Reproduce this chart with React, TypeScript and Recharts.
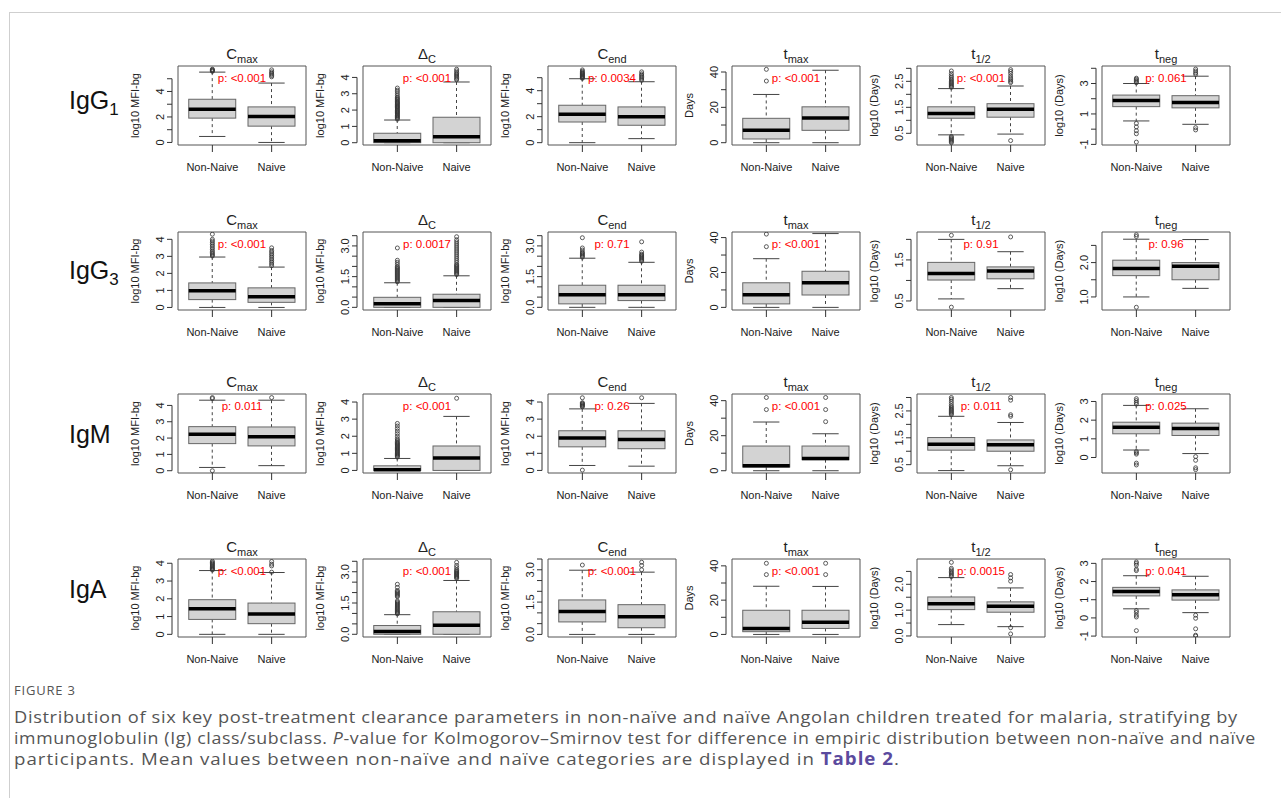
import React from "react";
import { ComposedChart, Bar, Scatter, XAxis, YAxis, ReferenceArea } from "recharts";

const FONT = '"Liberation Sans", Arial, Helvetica, sans-serif';
const CAPTION_FONT = '"Open Sans", "Noto Sans", sans-serif';

const GROUPS = ["Non-Naive", "Naive"];
const GROUP_POS = [1, 2];
const TITLE_BASE = ["C", "\u0394", "C", "t", "t", "t"];
const TITLE_SUB = ["max", "C", "end", "max", "1/2", "neg"];
const Y_TITLES = ["log10 MFI-bg", "log10 MFI-bg", "log10 MFI-bg", "Days", "log10 (Days)", "log10 (Days)"];

// [lower whisker, q1, median, q3, upper whisker] per parameter
const IGG1_NON_NAIVE = [
  [0.47, 1.91, 2.61, 3.39, 5.52],
  [0, 0, 0.12, 0.58, 1.39],
  [0, 1.59, 2.18, 2.88, 4.92],
  [0, 2.1, 7.0, 13.8, 27.3],
  [0.44, 1.08, 1.26, 1.52, 2.22],
  [0.54, 1.48, 1.88, 2.24, 3.0],
];
const IGG1_NAIVE = [
  [0, 1.28, 2.03, 2.79, 4.66],
  [0, 0, 0.37, 1.56, 3.72],
  [0.31, 1.34, 2.0, 2.75, 4.69],
  [0, 7.0, 14.0, 20.3, 41],
  [0.47, 1.12, 1.43, 1.64, 2.32],
  [0.32, 1.4, 1.76, 2.2, 3.48],
];
const IGG1_NON_NAIVE_OUT = [
  [5.58, 5.62, 5.66, 5.7, 5.75],
  [1.44, 1.5, 1.55, 1.6, 1.66, 1.7, 1.76, 1.81, 1.86, 1.9, 1.96, 2.0, 2.06, 2.12, 2.17, 2.22, 2.27, 2.33, 2.38, 2.43, 2.48, 2.53, 2.6, 2.66, 2.72, 2.78, 2.88, 3.0, 3.12, 3.22, 3.35],
  [4.95, 5.0, 5.05, 5.1, 5.15, 5.2, 5.26, 5.31, 5.36, 5.42, 5.5, 5.6],
  [34.9, 41.5],
  [2.27, 2.3, 2.34, 2.38, 2.42, 2.46, 2.5, 2.55, 2.6, 2.66, 2.72, 2.8, 2.9, 0.38, 0.34, 0.3, 0.26, 0.22, 0.18, 0.14],
  [3.05, 3.12, 3.2, 3.28, 3.35, 0.38, 0.15, -0.1, -0.3, -0.85],
];
const IGG1_NAIVE_OUT = [
  [5.15, 5.25, 5.35, 5.45, 5.55, 5.7],
  [3.85, 3.92, 4.0, 4.08, 4.15, 4.22, 4.3, 4.4, 4.5],
  [4.8, 4.9, 5.0, 5.1, 5.2, 5.3, 5.45],
  [],
  [2.45, 2.5, 2.56, 2.62, 2.7, 2.8, 2.88, 2.95, 0.22],
  [3.6, 3.7, 3.82, 3.95, 0.1, -0.05],
];

const IGG3_NON_NAIVE = [
  [0, 0.46, 0.98, 1.44, 2.96],
  [0, 0, 0.18, 0.49, 1.2],
  [0, 0.17, 0.62, 1.08, 2.4],
  [0, 2.0, 7.3, 14.1, 27.9],
  [0.55, 1.01, 1.17, 1.44, 2.0],
  [1.0, 1.62, 1.83, 2.07, 2.68],
];
const IGG3_NAIVE = [
  [0, 0.3, 0.63, 1.15, 2.37],
  [0, 0, 0.34, 0.64, 1.54],
  [0, 0.33, 0.62, 1.08, 2.2],
  [0, 7.1, 14.1, 20.7, 42.3],
  [0.8, 1.04, 1.23, 1.33, 1.7],
  [1.25, 1.5, 1.89, 2.0, 2.67],
];
const IGG3_NON_NAIVE_OUT = [
  [3.02, 3.08, 3.15, 3.22, 3.3, 3.4, 3.5, 3.6, 3.7, 3.8, 3.9, 4.0, 4.3],
  [1.25, 1.3, 1.35, 1.4, 1.45, 1.5, 1.55, 1.6, 1.65, 1.7, 1.75, 1.8, 1.85, 1.9, 1.95, 2.0, 2.1, 2.2, 2.3, 2.9],
  [2.45, 2.5, 2.55, 2.6, 2.65, 2.7, 2.8, 2.9, 3.4],
  [34.8, 42],
  [2.1, 0.35],
  [2.76, 2.81, 0.7],
];
const IGG3_NAIVE_OUT = [
  [2.45, 2.55, 2.65, 2.75, 2.85, 2.95, 3.05, 3.15, 3.25, 3.35, 3.5],
  [1.6, 1.65, 1.7, 1.75, 1.8, 1.85, 1.9, 1.95, 2.0, 2.05, 2.1, 2.2, 2.3, 2.4, 2.5, 2.6, 2.7, 2.8, 2.9, 3.0, 3.1, 3.2, 3.3, 3.45],
  [2.25, 2.3, 2.35, 2.4, 2.45, 2.5, 2.55, 2.6, 2.7, 3.2],
  [],
  [2.06],
  [],
];

const IGM_NON_NAIVE = [
  [0.2, 1.66, 2.23, 2.7, 4.32],
  [0, 0, 0.04, 0.27, 0.7],
  [0.29, 1.38, 1.89, 2.32, 3.6],
  [0, 2.1, 2.9, 14.1, 27.8],
  [0.28, 1.04, 1.26, 1.51, 2.3],
  [0.4, 1.27, 1.62, 1.89, 2.79],
];
const IGM_NAIVE = [
  [0.31, 1.52, 2.08, 2.68, 4.32],
  [0, 0, 0.72, 1.43, 3.16],
  [0.25, 1.27, 1.81, 2.32, 3.92],
  [0, 6.3, 7.0, 14.1, 21.1],
  [0.46, 1.0, 1.24, 1.42, 2.07],
  [0.21, 1.18, 1.55, 1.84, 2.61],
];
const IGM_NON_NAIVE_OUT = [
  [4.42, 4.48, 0.0],
  [0.78, 0.83, 0.88, 0.93, 0.98, 1.03, 1.08, 1.13, 1.18, 1.23, 1.28, 1.33, 1.38, 1.43, 1.48, 1.53, 1.58, 1.63, 1.7, 1.78, 1.86, 2.0, 2.15, 2.3, 2.45, 2.6, 2.75],
  [3.72, 3.76, 3.8, 3.84, 3.88, 3.92, 3.96, 4.25, 0.02],
  [34.9, 41.8],
  [2.36, 2.4, 2.44, 2.48, 2.52, 2.56, 2.6, 2.65, 2.7, 2.78, 2.86, 2.94, 3.0],
  [2.86, 2.95, 3.05, 3.15, 0.32, 0.25, 0.18, -0.3, -0.4],
];
const IGM_NAIVE_OUT = [
  [4.48],
  [4.22],
  [4.25],
  [28, 34.9, 41.8],
  [2.3, 2.36, 2.9, 3.0, 0.31],
  [0.05, -0.15, -0.55, -0.65],
];

const IGA_NON_NAIVE = [
  [0, 0.84, 1.44, 1.95, 3.59],
  [0, 0, 0.13, 0.42, 0.94],
  [0, 0.58, 1.06, 1.6, 2.98],
  [0, 1.6, 3.5, 14.1, 28.1],
  [0.44, 1.02, 1.25, 1.51, 2.26],
  [0.5, 1.21, 1.45, 1.68, 2.32],
];
const IGA_NAIVE = [
  [0, 0.6, 1.14, 1.76, 3.48],
  [0, 0, 0.43, 1.08, 2.58],
  [0, 0.31, 0.82, 1.38, 2.89],
  [0, 3.5, 7.1, 14.1, 28],
  [0.36, 0.92, 1.15, 1.32, 1.86],
  [0.29, 0.98, 1.28, 1.54, 2.29],
];
const IGA_NON_NAIVE_OUT = [
  [3.62, 3.66, 3.7, 3.75, 3.8, 3.85, 3.9, 3.95, 4.0, 4.05, 4.12],
  [0.98, 1.02, 1.06, 1.1, 1.15, 1.2, 1.25, 1.3, 1.35, 1.4, 1.45, 1.5, 1.55, 1.6, 1.8, 1.85, 1.9, 1.95, 2.0, 2.05, 2.1, 2.25, 2.4],
  [3.22],
  [34.9, 41.5],
  [2.3, 2.35, 2.4, 2.45, 2.5, 2.56, 2.62, 2.85],
  [2.6, 2.68, 2.9, 3.0, 3.08, 0.4, 0.3, 0.15, 0.05, -0.7],
];
const IGA_NAIVE_OUT = [
  [3.5, 3.85, 3.95, 4.1],
  [2.68, 2.72, 2.76, 2.8, 2.84, 2.88, 2.92, 2.96, 3.0, 3.05, 3.1, 3.2, 3.3, 3.45],
  [3.0, 3.2, 3.35],
  [34.9, 41.5],
  [2.12, 2.25, 2.38, 0.32, 0.08],
  [0.15, -0.02, -0.6, -0.95, -1.0],
];

const IGG1_P = ["p: <0.001", "p: <0.001", "p: 0.0034", "p: <0.001", "p: <0.001", "p: 0.061"];
const IGG3_P = ["p: <0.001", "p: 0.0017", "p: 0.71", "p: <0.001", "p: 0.91", "p: 0.96"];
const IGM_P = ["p: 0.011", "p: <0.001", "p: 0.26", "p: <0.001", "p: 0.011", "p: 0.025"];
const IGA_P = ["p: <0.001", "p: <0.001", "p: <0.001", "p: <0.001", "p: 0.0015", "p: 0.041"];

// y axes
const IGG1_DOMAIN = [[-0.2, 6.0], [-0.14, 4.7], [-0.18, 5.9], [-1.3, 43.4], [0.05, 3.09], [-1.04, 4.15]];
const IGG1_TICKS = [[0, 1, 2, 3, 4, 5], [0, 1, 2, 3, 4], [0, 1, 2, 3, 4, 5], [0, 10, 20, 30, 40], [0.5, 1, 1.5, 2, 2.5, 3], [-1, 0, 1, 2, 3, 4]];
const IGG1_LABELS = [[0, 2, 4], [0, 1, 2, 3, 4], [0, 2, 4], [0, 20, 40], [0.5, 1.5, 2.5], [-1, 1, 3]];
const IGG1_DEC = [0, 0, 0, 0, 1, 0];

const IGG3_DOMAIN = [[-0.15, 4.43], [-0.13, 3.68], [-0.13, 3.68], [-1.5, 43.2], [0.28, 2.18], [0.62, 2.89]];
const IGG3_TICKS = [[0, 1, 2, 3, 4], [0, 0.5, 1, 1.5, 2, 2.5, 3, 3.5], [0, 0.5, 1, 1.5, 2, 2.5, 3, 3.5], [0, 10, 20, 30, 40], [0.5, 1, 1.5, 2], [1, 1.5, 2, 2.5]];
const IGG3_LABELS = [[0, 1, 2, 3, 4], [0, 1.5, 3], [0, 1.5, 3], [0, 20, 40], [0.5, 1.5], [1, 2]];
const IGG3_DEC = [0, 1, 1, 0, 1, 1];

const IGM_DOMAIN = [[-0.14, 4.7], [-0.15, 4.47], [-0.15, 4.47], [-1.3, 43.8], [0.19, 3.13], [-0.83, 3.4]];
const IGM_TICKS = [[0, 1, 2, 3, 4], [0, 1, 2, 3, 4], [0, 1, 2, 3, 4], [0, 10, 20, 30, 40], [0.5, 1, 1.5, 2, 2.5, 3], [0, 1, 2, 3]];
const IGM_LABELS = [[0, 1, 2, 3, 4], [0, 1, 2, 3, 4], [0, 1, 2, 3, 4], [0, 20, 40], [0.5, 1.5, 2.5], [0, 1, 2, 3]];
const IGM_DEC = [0, 0, 0, 0, 1, 0];

const IGA_DOMAIN = [[-0.15, 4.24], [-0.13, 3.61], [-0.12, 3.5], [-1.5, 44], [-0.04, 2.98], [-1.05, 3.24]];
const IGA_TICKS = [[0, 1, 2, 3, 4], [0, 0.5, 1, 1.5, 2, 2.5, 3, 3.5], [0, 0.5, 1, 1.5, 2, 2.5, 3, 3.5], [0, 10, 20, 30, 40], [0, 0.5, 1, 1.5, 2, 2.5], [-1, 0, 1, 2, 3]];
const IGA_LABELS = [[0, 1, 2, 3, 4], [0, 1.5, 3], [0, 1.5, 3], [0, 20, 40], [0, 1, 2], [-1, 0, 1, 2, 3]];
const IGA_DEC = [0, 1, 1, 0, 1, 0];

const ROWS = [
  { name: "IgG", sub: "1", nn: IGG1_NON_NAIVE, n: IGG1_NAIVE, nnOut: IGG1_NON_NAIVE_OUT, nOut: IGG1_NAIVE_OUT, p: IGG1_P, domain: IGG1_DOMAIN, ticks: IGG1_TICKS, labels: IGG1_LABELS, dec: IGG1_DEC },
  { name: "IgG", sub: "3", nn: IGG3_NON_NAIVE, n: IGG3_NAIVE, nnOut: IGG3_NON_NAIVE_OUT, nOut: IGG3_NAIVE_OUT, p: IGG3_P, domain: IGG3_DOMAIN, ticks: IGG3_TICKS, labels: IGG3_LABELS, dec: IGG3_DEC },
  { name: "IgM", sub: "", nn: IGM_NON_NAIVE, n: IGM_NAIVE, nnOut: IGM_NON_NAIVE_OUT, nOut: IGM_NAIVE_OUT, p: IGM_P, domain: IGM_DOMAIN, ticks: IGM_TICKS, labels: IGM_LABELS, dec: IGM_DEC },
  { name: "IgA", sub: "", nn: IGA_NON_NAIVE, n: IGA_NAIVE, nnOut: IGA_NON_NAIVE_OUT, nOut: IGA_NAIVE_OUT, p: IGA_P, domain: IGA_DOMAIN, ticks: IGA_TICKS, labels: IGA_LABELS, dec: IGA_DEC },
];

// layout
const BOX_LEFT = [178, 363, 548, 732, 917, 1102];
const BOX_TOP = [66, 232, 394, 559];
const PLOT_H = [79, 78, 79, 78];
const LABEL_BASE = [109, 279, 443, 598];
const PLOT_W = 128;
const Y_W = 60;
const TOP = 8;
const RIGHT = 6;
const X_H = 30;

const BoxShape = (props: any) => {
  const { x, y, width, height, payload } = props;
  if (payload == null) return null;
  const top = Math.min(y, y + height);
  const bottom = Math.max(y, y + height);
  const { lo, q1, med, q3, hi } = payload;
  const py = (v: number) => bottom - ((v - lo) / (hi - lo)) * (bottom - top);
  const cx = x + width / 2;
  const half = width * 0.28;
  return (
    <g>
      <line x1={cx} x2={cx} y1={py(hi)} y2={py(q3)} stroke="#444" strokeDasharray="3 3" />
      <line x1={cx} x2={cx} y1={py(q1)} y2={py(lo)} stroke="#444" strokeDasharray="3 3" />
      <line x1={cx - half} x2={cx + half} y1={py(hi)} y2={py(hi)} stroke="#444" />
      <line x1={cx - half} x2={cx + half} y1={py(lo)} y2={py(lo)} stroke="#444" />
      <rect x={x} y={py(q3)} width={width} height={Math.max(py(q1) - py(q3), 1)} fill="#d3d3d3" stroke="#666" />
      <line x1={x} x2={x + width} y1={py(med)} y2={py(med)} stroke="#000" strokeWidth={3.5} />
    </g>
  );
};

const Dot = (props: any) => (
  <circle cx={props.cx} cy={props.cy} r={2} fill="none" stroke="#333" strokeWidth={0.8} />
);

function Panel({ row, col }: { row: number; col: number }) {
  const r = ROWS[row];
  const plotH = PLOT_H[row];
  const domain = r.domain[col];
  const ticks = r.ticks[col];
  const labels = r.labels[col];
  const dec = r.dec[col];
  const stats = [r.nn[col], r.n[col]];
  const outs = [r.nnOut[col], r.nOut[col]];

  const data = GROUP_POS.map((g, i) => ({
    g,
    range: [stats[i][0], stats[i][4]],
    lo: stats[i][0],
    q1: stats[i][1],
    med: stats[i][2],
    q3: stats[i][3],
    hi: stats[i][4],
  }));
  const outData = outs.flatMap((arr, i) => arr.map((v) => ({ g: GROUP_POS[i], v })));

  const pxPerUnit = plotH / (domain[1] - domain[0]);
  const axisX = Y_W - 6;
  const labelX = Y_W - 18;

  const renderTick = (props: any) => {
    const { y, payload, index } = props;
    const v = payload.value;
    const span = (ticks[ticks.length - 1] - ticks[0]) * pxPerUnit;
    return (
      <g>
        <line x1={axisX - 5} x2={axisX} y1={y} y2={y} stroke="#333" />
        {index === 0 && <line x1={axisX} x2={axisX} y1={y} y2={y - span} stroke="#333" />}
        {labels.includes(v) && (
          <text
            x={labelX}
            y={y}
            transform={`rotate(-90 ${labelX} ${y})`}
            textAnchor="middle"
            dominantBaseline="central"
            fontSize={11}
            fill="#222"
            fontFamily={FONT}
          >
            {v.toFixed(dec)}
          </text>
        )}
      </g>
    );
  };

  const renderYTitle = () => {
    const cy = TOP + plotH / 2;
    return (
      <text
        x={17}
        y={cy}
        transform={`rotate(-90 17 ${cy})`}
        textAnchor="middle"
        dominantBaseline="central"
        fontSize={11}
        fill="#222"
        fontFamily={FONT}
      >
        {Y_TITLES[col]}
      </text>
    );
  };

  return (
    <div style={{ position: "absolute", left: BOX_LEFT[col] - Y_W, top: BOX_TOP[row] - TOP }}>
      <ComposedChart
        width={Y_W + PLOT_W + RIGHT}
        height={TOP + plotH + X_H}
        data={data}
        margin={{ top: TOP, right: RIGHT, bottom: 0, left: 0 }}
      >
        <XAxis
          dataKey="g"
          type="number"
          domain={[0.42, 2.58]}
          ticks={[1, 2]}
          interval={0}
          allowDataOverflow
          tickFormatter={(v: number) => GROUPS[v - 1]}
          axisLine={false}
          tickLine={{ stroke: "#333" }}
          tickSize={7}
          tickMargin={11}
          height={X_H}
          tick={{ fontSize: 11, fill: "#222", fontFamily: FONT }}
        />
        <YAxis
          type="number"
          domain={domain}
          ticks={ticks}
          interval={0}
          allowDataOverflow
          width={Y_W}
          axisLine={false}
          tickLine={false}
          tick={renderTick}
          label={renderYTitle}
        />
        <ReferenceArea
          y1={domain[0]}
          y2={domain[1]}
          fill="none"
          stroke="#555"
          strokeWidth={1}
          ifOverflow="visible"
          label={{ value: r.p[col], position: "insideTop", offset: 8, fill: "#ff0000", fontSize: 11.5, fontFamily: FONT }}
        />
        <Bar dataKey="range" barSize={47} shape={<BoxShape />} isAnimationActive={false} />
        <Scatter data={outData} dataKey="v" shape={<Dot />} isAnimationActive={false} />
      </ComposedChart>
    </div>
  );
}

const captionLine = (scale: number, spacing: number): React.CSSProperties => ({
  transform: `scaleX(${scale})`,
  transformOrigin: "0 0",
  letterSpacing: spacing,
  height: 21,
});

export default function App() {
  return (
    <div
      style={{
        position: "absolute",
        left: 0,
        top: 0,
        width: 1281,
        height: 798,
        overflow: "hidden",
        background: "#fff",
        fontFamily: FONT,
      }}
    >
      <div
        style={{
          position: "absolute",
          left: 9,
          top: 12,
          width: 1280,
          height: 800,
          borderTop: "1.5px solid #cfcfcf",
          borderLeft: "1.5px solid #cfcfcf",
        }}
      />
      <svg width={1281} height={680} style={{ position: "absolute", left: 0, top: 0 }}>
        {ROWS.map((r, ri) => (
          <text key={"row" + ri} x={69} y={LABEL_BASE[ri]} fontSize={25} fill="#111" fontFamily={FONT}>
            {r.name}
            {r.sub && (
              <tspan fontSize={17} dy={6}>
                {r.sub}
              </tspan>
            )}
          </text>
        ))}
        {ROWS.map((_, ri) =>
          TITLE_BASE.map((b, ci) => (
            <text
              key={`t${ri}-${ci}`}
              x={BOX_LEFT[ci] + 64}
              y={BOX_TOP[ri] - 7.5}
              textAnchor="middle"
              fontSize={15}
              fill="#222"
              fontFamily={FONT}
            >
              {b}
              <tspan fontSize={11} dy={4}>
                {TITLE_SUB[ci]}
              </tspan>
            </text>
          ))
        )}
      </svg>
      {ROWS.map((_, ri) => TITLE_BASE.map((__, ci) => <Panel key={`p${ri}-${ci}`} row={ri} col={ci} />))}
      <div
        style={{
          position: "absolute",
          left: 14,
          top: 681,
          fontFamily: CAPTION_FONT,
          fontSize: 13,
          letterSpacing: 0.8,
          color: "#555",
        }}
      >
        FIGURE 3
      </div>
      <div
        style={{
          position: "absolute",
          left: 14,
          top: 706,
          fontFamily: CAPTION_FONT,
          fontSize: 17,
          lineHeight: "21px",
          color: "#555",
          whiteSpace: "nowrap",
        }}
      >
        <div style={captionLine(1.073, 0.6)}>
          Distribution of six key post-treatment clearance parameters in non-naïve and naïve Angolan children treated for malaria, stratifying by
        </div>
        <div style={captionLine(1.045, 0.6)}>
          immunoglobulin (Ig) class/subclass. <i>P</i>-value for Kolmogorov–Smirnov test for difference in empiric distribution between non-naïve and naïve
        </div>
        <div style={captionLine(1.1, 0.9)}>
          participants. Mean values between non-naïve and naïve categories are displayed in{" "}
          <b style={{ color: "#5b4a9e" }}>Table 2</b>.
        </div>
      </div>
    </div>
  );
}
